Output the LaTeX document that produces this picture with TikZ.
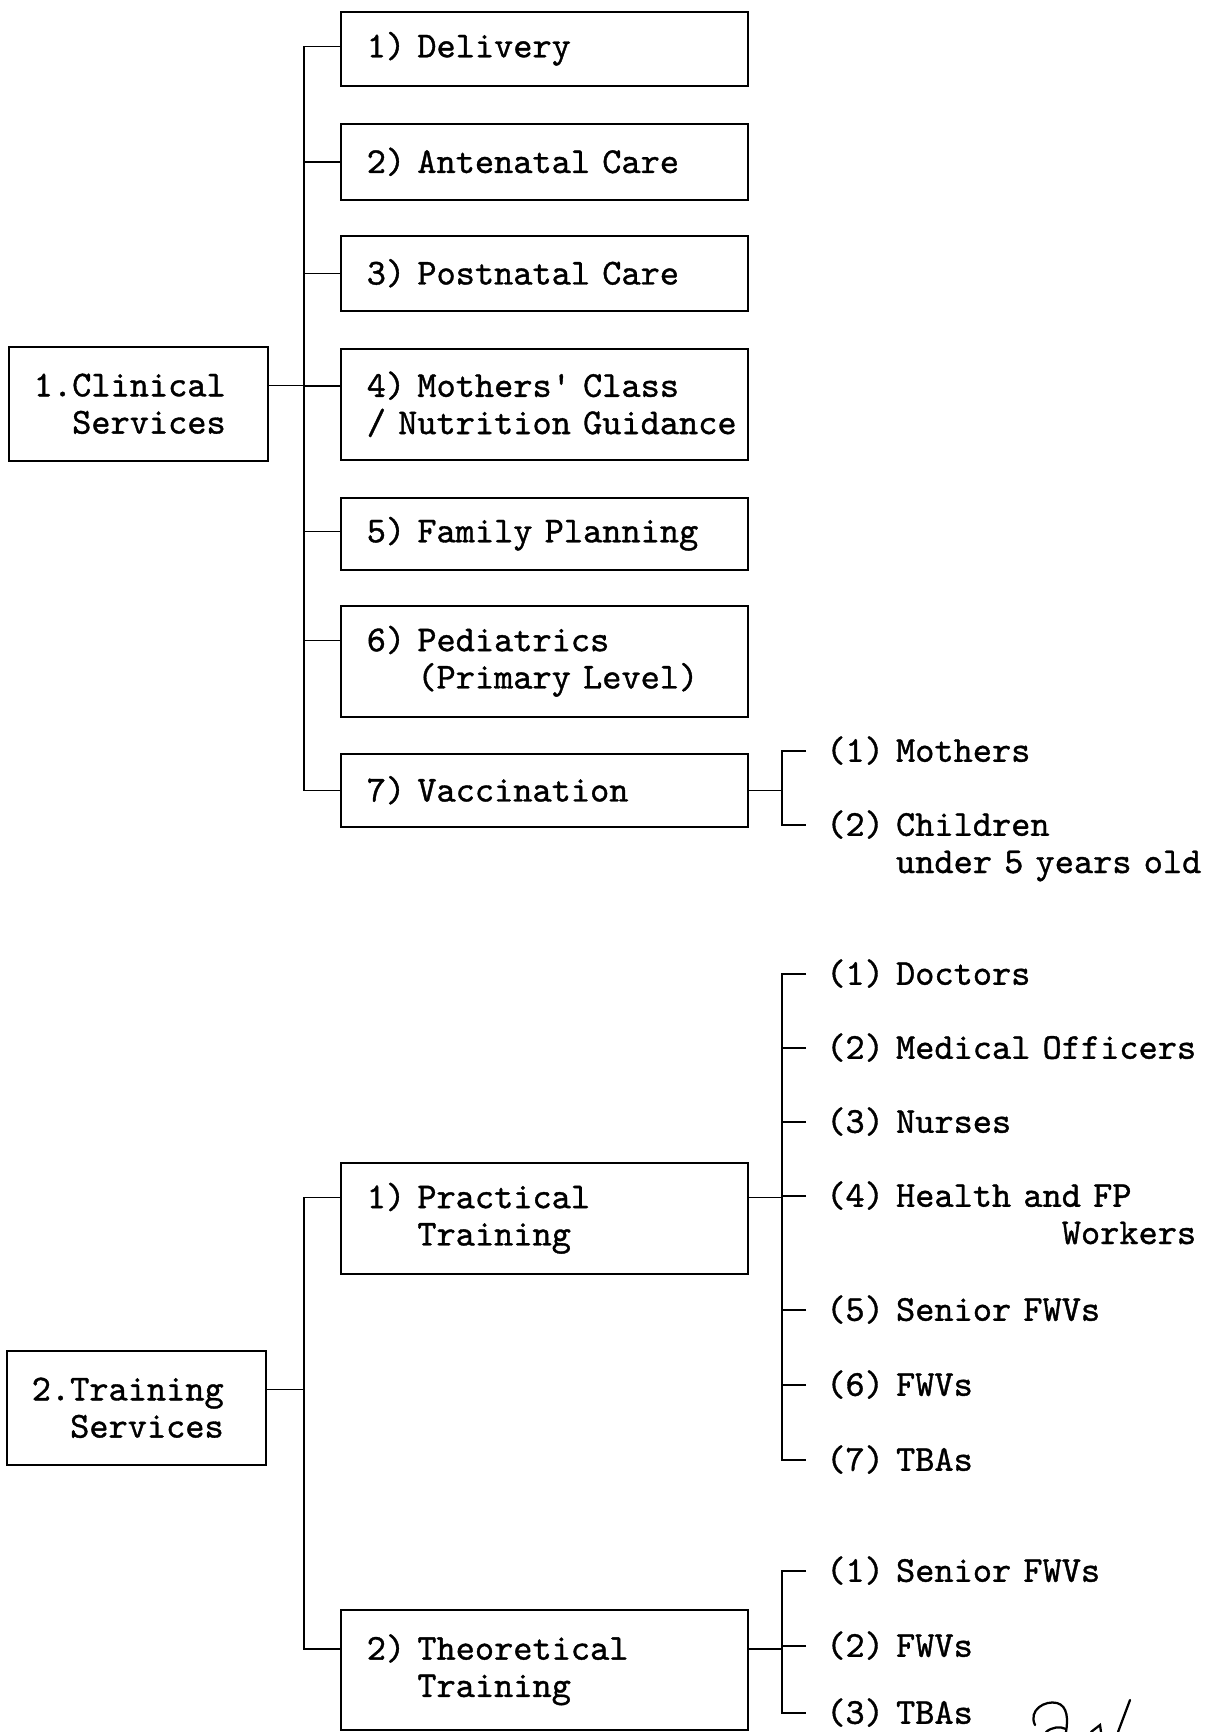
\documentclass[tikz,border=0pt]{standalone}
\usepackage{fontspec}
\newfontfamily\typefont[FakeBold=1]{lmmono10-regular.otf}
\usepackage{tikz}

\begin{document}
\begin{tikzpicture}[
  x=0.025cm, y=-0.025cm,
  every node/.style={font=\typefont\fontsize{26}{26.5}\selectfont},
  hbox/.style={rectangle,draw,line width=1.1pt,anchor=north west,text width=8.875cm,inner xsep=0.65cm,align=left},
  sbox/.style={rectangle,draw,line width=1.1pt,anchor=north west,text width=5.225cm,inner xsep=0.625cm,align=left,minimum height=2.85cm},
  item/.style={anchor=mid west,yshift=-5.5pt,text width=9.4cm,inner xsep=0.5cm,inner ysep=0pt,align=left},
  lift/.style={yshift=5.5pt},
  link/.style={line width=1.1pt},
  pen/.style={line width=1.6pt,line cap=round}
]
  \useasboundingbox[fill=white] (0,0) rectangle (1226,1732);

  % Clinical services
  \node[sbox] (clin) at (8,346) {1.Clinical\\\phantom{1.}Services};
  \node[hbox,minimum height=1.85cm] (c1) at (340,11) {1) Delivery};
  \node[hbox,minimum height=1.9cm] (c2) at (340,123) {2) Antenatal Care};
  \node[hbox,minimum height=1.875cm] (c3) at (340,235) {3) Postnatal Care};
  \node[hbox,minimum height=2.775cm] (c4) at (340,348) {4) Mothers\textquotesingle{} Class\\\mbox{/ Nutrition Guidance}};
  \node[hbox,minimum height=1.8cm] (c5) at (340,497) {5) Family Planning};
  \node[hbox,minimum height=2.775cm] (c6) at (340,605) {6) Pediatrics\\\phantom{6) }(Primary Level)};
  \node[hbox,minimum height=1.825cm] (c7) at (340,753) {7) Vaccination};
  \node[item] (v1) at (806,751) {(1) Mothers};
  \node[item] (v2) at (806,825) {(2) Children\\\phantom{(2) }under 5 years old};

  % Training services
  \node[sbox] (train) at (6,1350) {2.Training\\\phantom{2.}Services};
  \node[hbox,minimum height=2.775cm] (p1) at (340,1162) {1) Practical\\\phantom{1) }Training};
  \node[hbox,minimum height=3cm] (p2) at (340,1609) {2) Theoretical\\\phantom{2) }Training};
  \node[item] (pr1) at (806,974) {(1) Doctors};
  \node[item] (pr2) at (806,1048) {(2) Medical Officers};
  \node[item] (pr3) at (806,1122) {(3) Nurses};
  \node[item] (pr4) at (806,1196) {(4) Health and FP\\\phantom{(4) Health an}Workers};
  \node[item] (pr5) at (806,1310) {(5) Senior FWVs};
  \node[item] (pr6) at (806,1385) {(6) FWVs};
  \node[item] (pr7) at (806,1460) {(7) TBAs};
  \node[item] (th1) at (806,1571) {(1) Senior FWVs};
  \node[item] (th2) at (806,1646) {(2) FWVs};
  \node[item] (th3) at (806,1713) {(3) TBAs};

  % Attach points on the first text line
  \foreach \n in {clin,c1,c2,c3,c4,c5,c6,c7,v1,v2,train,p1,p2,pr1,pr2,pr3,pr4,pr5,pr6,pr7,th1,th2,th3} {
    \coordinate (\n-l) at ([lift]\n.mid west);
    \coordinate (\n-r) at ([lift]\n.mid east);
  }

  % Trunks and brackets
  \coordinate (tk) at (304,0);
  \coordinate (br) at (782,0);
  \draw[link] (c1-l) -| (tk |- c7-l) -- (c7-l);
  \foreach \n in {2,...,6} \draw[link] (c\n-l) -- (c\n-l -| tk);
  \draw[link] (clin-r) -- (clin-r -| tk);
  \draw[link] (c7-r) -- (c7-r -| br);
  \draw[link] (v1-l) -| (br |- v2-l) -- (v2-l);

  \draw[link] (p1-l) -| (tk |- p2-l) -- (p2-l);
  \draw[link] (train-r) -- (train-r -| tk);
  \draw[link] (p1-r) -- (p1-r -| br);
  \draw[link] (pr1-l) -| (br |- pr7-l) -- (pr7-l);
  \foreach \n in {2,...,6} \draw[link] (pr\n-l) -- (pr\n-l -| br);
  \draw[link] (p2-r) -- (p2-r -| br);
  \draw[link] (th1-l) -| (br |- th3-l) -- (th3-l);
  \draw[link] (th2-l) -- (th2-l -| br);

  % Handwritten initials
  \draw[pen] (1035,1725) .. controls (1028,1710) and (1045,1700) .. (1057,1703) .. controls (1068,1706) and (1068,1720) .. (1066,1732);
  \draw[pen] (1046,1732) .. controls (1052,1727) and (1060,1726) .. (1066,1729);
  \draw[pen] (1091,1732) -- (1100,1725) -- (1101,1732);
  \draw[pen] (1130,1700) -- (1118,1732);
\end{tikzpicture}
\end{document}
